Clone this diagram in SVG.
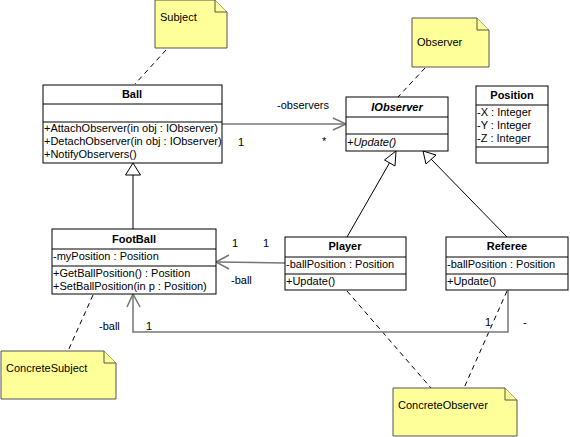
<svg xmlns="http://www.w3.org/2000/svg" width="570" height="437" viewBox="0 0 570 437">
<style>
text{font-family:"Liberation Sans",Arial,sans-serif;font-size:11px;fill:#000}
.t{font-weight:bold;text-anchor:middle}
.i{font-style:italic}
.box{fill:#fff;stroke:#000;stroke-width:1}
.sep{stroke:#000;stroke-width:1}
.note{fill:#ffff99;stroke:#555;stroke-width:1}
.dash{stroke:#000;stroke-width:1;stroke-dasharray:5,4;fill:none}
.assoc{stroke:#777;stroke-width:1.5;fill:none}
.gen{stroke:#000;stroke-width:1;fill:none}
.tri{fill:#fff;stroke:#000;stroke-width:1}
</style>
<rect width="570" height="437" fill="#fff"/>
<g id="connectors">
<line class="dash" x1="166" y1="50" x2="135" y2="84"/>
<line class="dash" x1="425" y1="68" x2="398" y2="97"/>
<line class="dash" x1="93" y1="295" x2="68" y2="351"/>
<line class="dash" x1="347" y1="291" x2="431" y2="388"/>
<line class="dash" x1="507" y1="291" x2="464" y2="388"/>
<line class="gen" x1="133" y1="175" x2="133" y2="229"/>
<polygon class="tri" points="133,163 125.5,175 140.5,175"/>
<line class="gen" x1="347" y1="237" x2="390" y2="162"/>
<polygon class="tri" points="396,151 384.5,160 395,166"/>
<line class="gen" x1="507" y1="237" x2="431" y2="159"/>
<polygon class="tri" points="423,151 426,164 436,155"/>
<polyline class="assoc" points="222,124 346,124"/>
<polyline class="assoc" points="333,118 346,124 333,130"/>
<polyline class="assoc" points="285,263 216,262"/>
<polyline class="assoc" points="229,255 216,262 229,269"/>
<polyline class="assoc" points="508,290 508,332 133,332 133,294"/>
<polyline class="assoc" points="127,307 133,294 140,307"/>
<text x="277" y="109">-observers</text>
<text x="238" y="146">1</text>
<text x="322" y="145">*</text>
<text x="232" y="247">1</text>
<text x="263" y="247">1</text>
<text x="231" y="284">-ball</text>
<text x="99" y="330">-ball</text>
<text x="146" y="330">1</text>
<text x="485" y="326">1</text>
<text x="523" y="326">-</text>
</g>
<g id="note-subject">
<path class="note" d="M155,0 H215 L227,12 V48 H155 Z"/>
<path class="note" d="M215,0 V12 H227" fill="none"/>
<text x="160" y="21">Subject</text>
</g>
<g id="note-observer">
<path class="note" d="M412,18 H477 L489,30 V67 H412 Z"/>
<path class="note" d="M477,18 V30 H489" fill="none"/>
<text x="417" y="46">Observer</text>
</g>
<g id="note-concretesubject">
<path class="note" d="M1,351 H104 L116,363 V399 H1 Z"/>
<path class="note" d="M104,351 V363 H116" fill="none"/>
<text x="6" y="372">ConcreteSubject</text>
</g>
<g id="note-concreteobserver">
<path class="note" d="M393,388 H505 L517,400 V436 H393 Z"/>
<path class="note" d="M505,388 V400 H517" fill="none"/>
<text x="398" y="409">ConcreteObserver</text>
</g>
<g id="Ball">
<rect class="box" x="43" y="85" width="179" height="78"/>
<line class="sep" x1="43" y1="104" x2="222" y2="104"/>
<line class="sep" x1="43" y1="122" x2="222" y2="122"/>
<text class="t" x="132" y="98">Ball</text>
<text x="44" y="132">+AttachObserver(in obj : IObserver)</text>
<text x="44" y="145">+DetachObserver(in obj : IObserver)</text>
<text x="44" y="158">+NotifyObservers()</text>
</g>
<g id="IObserver">
<rect class="box" x="346" y="97" width="102" height="54"/>
<line class="sep" x1="346" y1="117" x2="448" y2="117"/>
<line class="sep" x1="346" y1="134" x2="448" y2="134"/>
<text class="t i" x="397" y="111">IObserver</text>
<text class="i" x="347" y="146">+Update()</text>
</g>
<g id="Position">
<rect class="box" x="476" y="86" width="72" height="77"/>
<line class="sep" x1="476" y1="105" x2="548" y2="105"/>
<line class="sep" x1="476" y1="147" x2="548" y2="147"/>
<text class="t" x="512" y="99">Position</text>
<text x="477" y="116">-X : Integer</text>
<text x="477" y="129">-Y : Integer</text>
<text x="477" y="142">-Z : Integer</text>
</g>
<g id="FootBall">
<rect class="box" x="52" y="229" width="164" height="65"/>
<line class="sep" x1="52" y1="249" x2="216" y2="249"/>
<line class="sep" x1="52" y1="266" x2="216" y2="266"/>
<text class="t" x="134" y="243">FootBall</text>
<text x="53" y="260">-myPosition : Position</text>
<text x="53" y="277">+GetBallPosition() : Position</text>
<text x="53" y="290">+SetBallPosition(in p : Position)</text>
</g>
<g id="Player">
<rect class="box" x="285" y="237" width="121" height="53"/>
<line class="sep" x1="285" y1="257" x2="406" y2="257"/>
<line class="sep" x1="285" y1="274" x2="406" y2="274"/>
<text class="t" x="345" y="250">Player</text>
<text x="286" y="268">-ballPosition : Position</text>
<text x="286" y="285">+Update()</text>
</g>
<g id="Referee">
<rect class="box" x="446" y="237" width="122" height="53"/>
<line class="sep" x1="446" y1="257" x2="568" y2="257"/>
<line class="sep" x1="446" y1="274" x2="568" y2="274"/>
<text class="t" x="507" y="250">Referee</text>
<text x="447" y="268">-ballPosition : Position</text>
<text x="447" y="285">+Update()</text>
</g>
</svg>
